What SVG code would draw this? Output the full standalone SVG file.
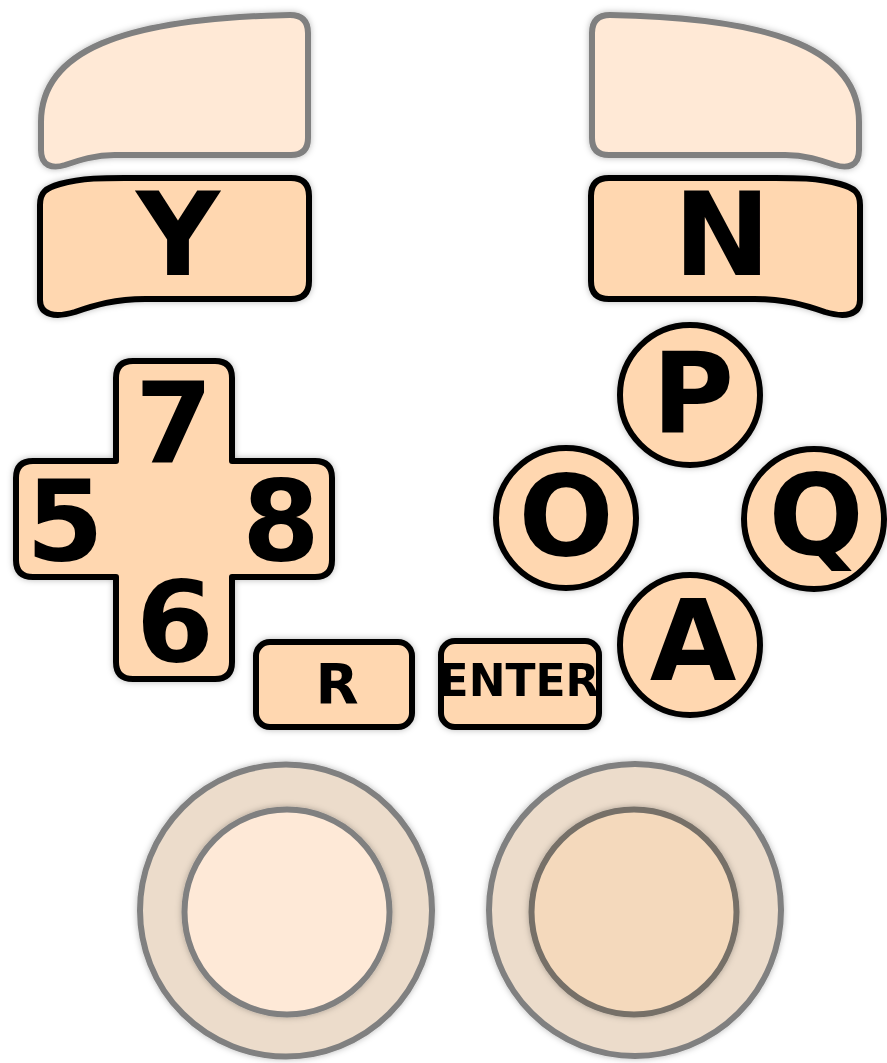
<svg xmlns="http://www.w3.org/2000/svg" width="887" height="1063" viewBox="0 0 887 1063">
<defs>
<filter id="sh" x="-20%" y="-20%" width="140%" height="140%">
<feDropShadow dx="0" dy="0" stdDeviation="3" flood-color="#000" flood-opacity="0.28"/>
</filter>
<path id="shoulder" d="M 41,150 L 41,122 C 41,52 120,18 290,15 Q 308,15 308,33 L 308,138 Q 308,155 291,155 L 115,155 C 95,155 80,160 65,165 C 52,169 41,166 41,150 Z"/>
<path id="bumper" d="M 40,205 C 40,192 46,188 60,184 C 85,177 110,178 140,178 L 291,178 Q 309,178 309,196 L 309,281 Q 309,299 291,299 L 145,299 C 115,299 95,305 75,312 C 55,318 40,315 40,300 Z"/>
</defs>
<style>
.sh{fill:#ffe9d6;stroke:#808080;stroke-width:6;stroke-linejoin:round}
.btn{fill:#ffd7b0;stroke:#000;stroke-width:6;stroke-linejoin:round}
.lbl{font-family:"DejaVu Sans",Verdana,sans-serif;font-weight:bold;fill:#000;text-anchor:middle}
.big{font-size:112px}
.ring{fill:#ecdccb;stroke:#808080;stroke-width:6}
</style>
<rect width="887" height="1063" fill="#fff"/>
<g id="shoulder-left" filter="url(#sh)"><use href="#shoulder" class="sh"/></g>
<g id="shoulder-right" filter="url(#sh)"><use href="#shoulder" class="sh" transform="matrix(-1,0,0,1,900,0)"/></g>
<g id="btn-Y" filter="url(#sh)"><use href="#bumper" class="btn"/><text class="lbl" x="178" y="275" font-size="116">Y</text></g>
<g id="btn-N" filter="url(#sh)"><use href="#bumper" class="btn" transform="matrix(-1,0,0,1,900,0)"/><text class="lbl" x="722" y="275" font-size="116">N</text></g>
<g id="dpad" filter="url(#sh)">
<path class="btn" d="M 133,361 L 215,361 Q 232,361 232,378 L 232,461 L 315,461 Q 332,461 332,478 L 332,560 Q 332,577 315,577 L 232,577 L 232,662 Q 232,679 215,679 L 133,679 Q 116,679 116,662 L 116,577 L 33,577 Q 16,577 16,560 L 16,478 Q 16,461 33,461 L 116,461 L 116,378 Q 116,361 133,361 Z"/>
<text class="lbl big" x="174" y="462">7</text>
<text class="lbl big" x="65" y="560">5</text>
<text class="lbl big" x="281" y="560">8</text>
<text class="lbl big" x="175" y="661">6</text>
</g>
<g id="btn-R" filter="url(#sh)"><rect class="btn" x="256" y="642" width="156" height="85" rx="14"/><text class="lbl" x="337" y="703" font-size="56">R</text></g>
<g id="btn-ENTER" filter="url(#sh)"><rect class="btn" x="441" y="641" width="158" height="86" rx="14"/><text class="lbl" x="519" y="696" font-size="44">ENTER</text></g>
<g id="btn-P" filter="url(#sh)"><circle class="btn" cx="690" cy="395" r="70"/><text class="lbl big" x="693" y="432">P</text></g>
<g id="btn-O" filter="url(#sh)"><circle class="btn" cx="566" cy="518" r="70"/><text class="lbl big" x="566" y="555">O</text></g>
<g id="btn-Q" filter="url(#sh)"><circle class="btn" cx="814" cy="519" r="70"/><text class="lbl big" x="816" y="555">Q</text></g>
<g id="btn-A" filter="url(#sh)"><circle class="btn" cx="690" cy="645" r="70"/><text class="lbl big" x="693" y="680">A</text></g>
<g id="stick-left" filter="url(#sh)"><circle class="ring" cx="286" cy="910.5" r="146"/><circle cx="287" cy="912" r="102.5" fill="#fee9d7" stroke="#808080" stroke-width="6" filter="url(#sh)"/></g>
<g id="stick-right" filter="url(#sh)"><circle class="ring" cx="635" cy="910" r="146"/><circle cx="634" cy="912" r="102.5" fill="#f4d9bc" stroke="#767068" stroke-width="6" filter="url(#sh)"/></g>
<g id="connectors"/>
</svg>
